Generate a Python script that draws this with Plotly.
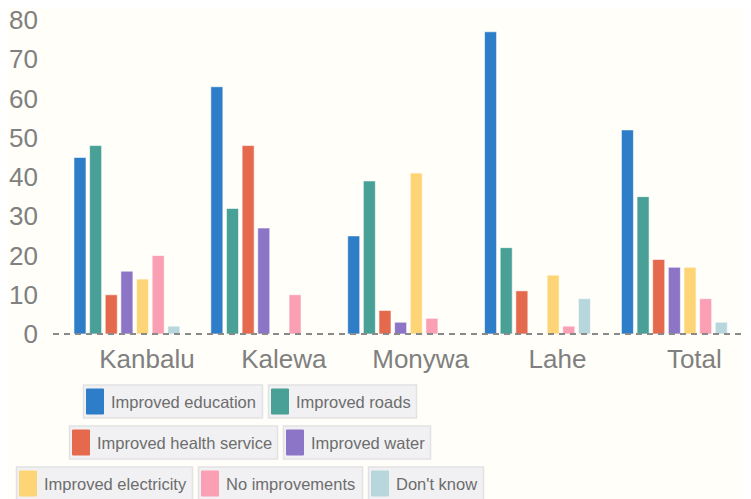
import plotly.graph_objects as go

categories = ["Kanbalu", "Kalewa", "Monywa", "Lahe", "Total"]

series_names = [
    "Improved education",
    "Improved roads",
    "Improved health service",
    "Improved water",
    "Improved electricity",
    "No improvements",
    "Don't know",
]

improved_education = [45, 63, 25, 77, 52]
improved_roads = [48, 32, 39, 22, 35]
improved_health = [10, 48, 6, 11, 19]
improved_water = [16, 27, 3, 0, 17]
improved_electricity = [14, 0, 41, 15, 17]
no_improvements = [20, 10, 4, 2, 9]
dont_know = [2, 0, 0, 9, 3]

series_values = [
    improved_education, improved_roads, improved_health, improved_water,
    improved_electricity, no_improvements, dont_know,
]

colors = ["#2e7dc8", "#48a096", "#e5694c", "#8c74c6", "#fed576", "#fb9fb5", "#b7d7dd"]

# the page body adds an 8px margin, so the figure sits 8px right/down
OFF = 8
W, H = 751, 499
# plot area in page pixels
PL, PR, PT, PB = 53, 751, 10, 341
ML, MR, MT, MB = PL - OFF, W - (PR - OFF), PT - OFF, H - (PB - OFF)
PW, PH = PR - PL, PB - PT


def px_x(px):
    return (px - PL) / PW


def px_y(py):
    return (PB - py) / PH


fig = go.Figure()
for name, vals, col in zip(series_names, series_values, colors):
    fig.add_trace(go.Bar(
        name=name, x=categories, y=vals,
        marker=dict(color=col, line=dict(color="rgba(255,255,255,0.6)", width=1)),
        showlegend=False,
    ))

# dashed baseline
fig.add_shape(type="line", xref="paper", x0=0, x1=1, yref="y", y0=0, y1=0,
              line=dict(color="#8a8a8a", width=2, dash="6px,5px"), layer="above")

# custom legend: one boxed entry per series, three centred rows
rows = [[0, 1], [2, 3], [4, 5, 6]]
box_w = [179, 148, 208, 147, 176, 164, 115]
gap, box_h, row_cx, first_top, row_step = 6, 33, 250, 385, 41
for r, items in enumerate(rows):
    total = sum(box_w[i] for i in items) + gap * (len(items) - 1)
    left = row_cx - total / 2
    top = first_top + r * row_step
    for i in items:
        right = left + box_w[i]
        fig.add_shape(type="rect", xref="paper", yref="paper",
                      x0=px_x(left), x1=px_x(right), y0=px_y(top), y1=px_y(top + box_h),
                      fillcolor="#f1f1f3", line=dict(color="#e2e2e4", width=1.5))
        fig.add_shape(type="rect", xref="paper", yref="paper",
                      x0=px_x(left + 3), x1=px_x(left + 20),
                      y0=px_y(top + 4), y1=px_y(top + box_h - 4),
                      fillcolor=colors[i], line=dict(color=colors[i], width=1))
        fig.add_annotation(xref="paper", yref="paper", x=px_x(left + 25),
                           y=px_y(top + box_h / 2), xanchor="left", yanchor="middle",
                           text=series_names[i], showarrow=False,
                           font=dict(family="Liberation Sans, Arial", size=16.5, color="#6d6d6d"))
        left = right + gap

y0_px, y80_px = 334, 20
unit = (y0_px - y80_px) / 80
fig.update_layout(
    width=W, height=H,
    margin=dict(l=ML, r=MR, t=MT, b=MB),
    paper_bgcolor="#fffef8", plot_bgcolor="#fffef8",
    barmode="group", bargap=0.2, bargroupgap=0.23,
    font=dict(family="Liberation Sans, Arial", color="#808080"),
    xaxis=dict(range=[-0.54, 4.56], showgrid=False, zeroline=False, showline=False,
               automargin=False,
               tickfont=dict(size=26, color="#808080"), ticklabelshift=20),
    yaxis=dict(range=[-(PB - y0_px) / unit, 80 + (y80_px - PT) / unit],
               dtick=10, showgrid=False, zeroline=False, showline=False,
               automargin=False,
               tickfont=dict(size=26, color="#808080"), ticklabelstandoff=14,
               ticklabeloverflow="allow"),
)

fig.write_html("out.html")
